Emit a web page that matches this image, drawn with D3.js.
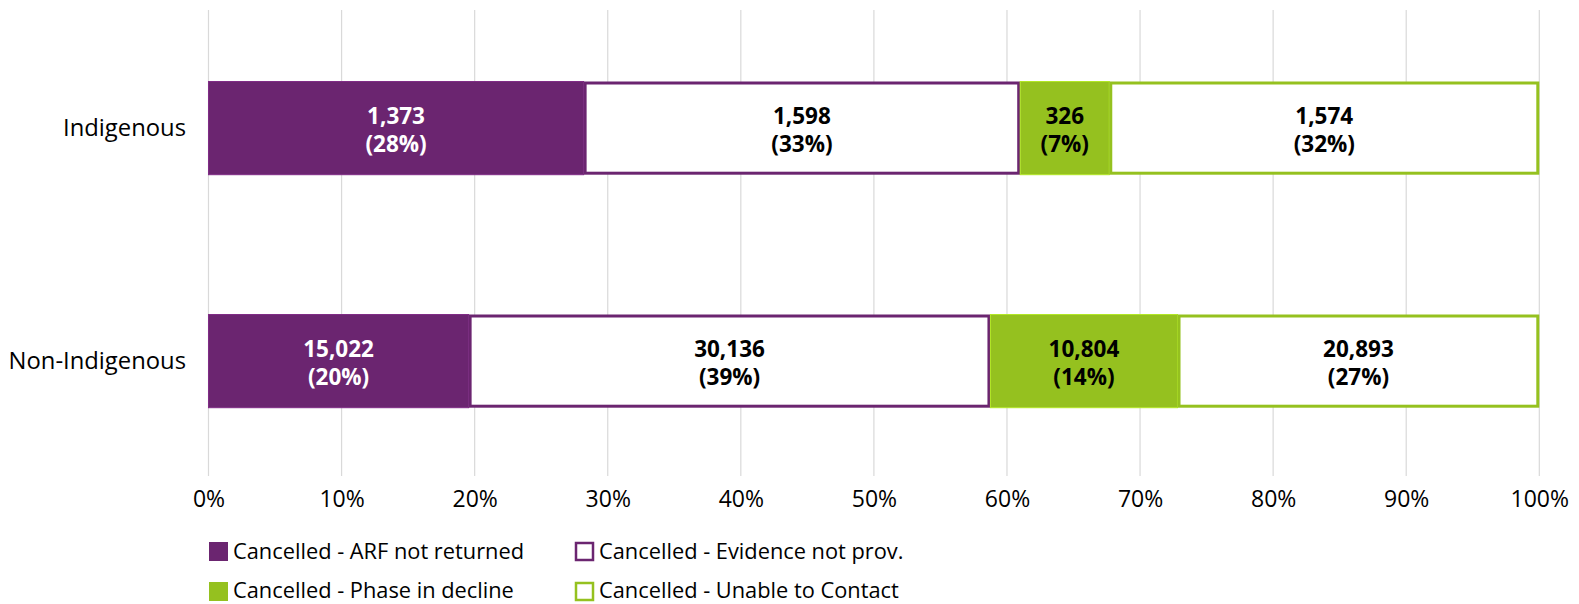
<!DOCTYPE html>
<html>
<head>
<meta charset="utf-8">
<script src="https://cdn.jsdelivr.net/npm/d3@7"></script>
<style>
	body { margin: 0; background: #fff; }
	.c-svg { width: 1579px; height: 604px; }
	text { font-family: "Open Sans", "Noto Sans", sans-serif; fill: #000; }
</style>
</head>
<body>
<div class="c-svg"></div>
<script>
//DATA
//-------------------------------------------------------------------------
const categories = ["Indigenous", "Non-Indigenous"];
const seriesNames = [
	"Cancelled - ARF not returned",
	"Cancelled - Evidence not prov.",
	"Cancelled - Phase in decline",
	"Cancelled - Unable to Contact"
];
const arfNotReturned = [1373, 15022];
const evidenceNotProv = [1598, 30136];
const phaseInDecline = [326, 10804];
const unableToContact = [1574, 20893];
const tickValues = [0, 0.1, 0.2, 0.3, 0.4, 0.5, 0.6, 0.7, 0.8, 0.9, 1];

//opts
//-------------------------------------------------------------------------
const opts = {
	container: ".c-svg",
	width: 1579,
	height: 604,
	left: 208.5,
	right: 1539.3,
	top: 11.6,
	bottom: 477.6
};

const purple = "#6b2570";
const green = "#95c11f";

//style per series : filled or outlined
const seriesStyle = [
	{ color: purple, filled: true, text: "#fff" },
	{ color: purple, filled: false, text: "#000" },
	{ color: green, filled: true, text: "#000" },
	{ color: green, filled: false, text: "#000" }
];

const svg = d3.select(opts.container)
	.append("svg")
	.attr("width", opts.width)
	.attr("height", opts.height);

//build stacked table
const table = categories.map((c, i) => {
	const vals = [arfNotReturned[i], evidenceNotProv[i], phaseInDecline[i], unableToContact[i]];
	const total = d3.sum(vals);
	let acc = 0;
	return vals.map((v, k) => {
		const seg = { cat: c, key: k, value: v, x0: acc / total, x1: (acc + v) / total };
		acc += v;
		return seg;
	});
});

//SCALES
//-------------------------------------------------------------------------
const x = d3.scaleLinear()
	.domain([0, 1])
	.range([opts.left, opts.right]);

const y = d3.scaleBand()
	.domain(categories)
	.range([opts.top, opts.bottom])
	.paddingInner(0.6)
	.paddingOuter(0.3);

//GRID
//-------------------------------------------------------------------------
svg.append("g")
	.attr("class", "grid")
	.selectAll("line")
	.data(tickValues)
	.join("line")
	.attr("x1", d => x(d))
	.attr("x2", d => x(d))
	.attr("y1", 10)
	.attr("y2", 476)
	.attr("stroke", "#d9d9d9")
	.attr("stroke-width", 1.2);

//x axis
const xAxis = d3.axisBottom(x)
	.tickValues(tickValues)
	.tickFormat(d3.format(".0%"))
	.tickSize(0)
	.tickPadding(0);

const gx = svg.append("g")
	.attr("transform", "translate(0 491)")
	.call(xAxis);
gx.select(".domain").remove();
gx.selectAll("text")
	.attr("dy", "0.71em")
	.style("font-size", "23px");

//y axis
const yAxis = d3.axisLeft(y)
	.tickSize(0)
	.tickPadding(0);

const gy = svg.append("g")
	.attr("transform", "translate(186 0)")
	.call(yAxis);
gy.select(".domain").remove();
gy.selectAll("text")
	.attr("dy", "0.35em")
	.style("font-size", "23.8px");

//BARS
//-------------------------------------------------------------------------
const segs = svg.append("g")
	.attr("class", "bars")
	.selectAll("g")
	.data(table.flat())
	.join("g");

segs.append("rect")
	.attr("x", d => seriesStyle[d.key].filled ? x(d.x0) : x(d.x0) + 1.5)
	.attr("y", d => seriesStyle[d.key].filled ? y(d.cat) : y(d.cat) + 1.5)
	.attr("width", d => seriesStyle[d.key].filled ? x(d.x1) - x(d.x0) : x(d.x1) - x(d.x0) - 3)
	.attr("height", d => seriesStyle[d.key].filled ? y.bandwidth() : y.bandwidth() - 3)
	.attr("fill", d => seriesStyle[d.key].filled ? seriesStyle[d.key].color : "#fff")
	.attr("stroke", d => seriesStyle[d.key].filled ? d3.color(seriesStyle[d.key].color).brighter(0.5) : seriesStyle[d.key].color)
	.attr("stroke-width", d => seriesStyle[d.key].filled ? 1 : 3);

//labels
const fmt = d3.format(",");
const label = segs.append("text")
	.attr("text-anchor", "middle")
	.style("font-size", "22.5px")
	.style("font-weight", "bold")
	.style("fill", d => seriesStyle[d.key].text);

label.append("tspan")
	.attr("x", d => x((d.x0 + d.x1) / 2))
	.attr("y", d => y(d.cat) + y.bandwidth() / 2 - 4.5)
	.text(d => fmt(d.value));

label.append("tspan")
	.attr("x", d => x((d.x0 + d.x1) / 2))
	.attr("y", d => y(d.cat) + y.bandwidth() / 2 + 24)
	.text(d => "(" + Math.round((d.x1 - d.x0) * 100) + "%)");

//LEGEND
//-------------------------------------------------------------------------
const legend = svg.append("g")
	.attr("class", "legend")
	.selectAll("g")
	.data(seriesNames)
	.join("g")
	.attr("transform", (d, i) => `translate(${i % 2 === 0 ? 209 : 575} ${i < 2 ? 542 : 582})`);

legend.append("rect")
	.attr("x", (d, i) => seriesStyle[i].filled ? 0 : 1)
	.attr("y", (d, i) => seriesStyle[i].filled ? 0 : 1)
	.attr("width", (d, i) => seriesStyle[i].filled ? 19 : 17)
	.attr("height", (d, i) => seriesStyle[i].filled ? 19 : 17)
	.attr("fill", (d, i) => seriesStyle[i].filled ? seriesStyle[i].color : "#fff")
	.attr("stroke", (d, i) => seriesStyle[i].filled ? "none" : seriesStyle[i].color)
	.attr("stroke-width", 2.5);

legend.append("text")
	.attr("x", 24)
	.attr("y", (d, i) => i < 2 ? 17 : 15.5)
	.style("font-size", "21.8px")
	.text(d => d);
</script>
</body>
</html>
